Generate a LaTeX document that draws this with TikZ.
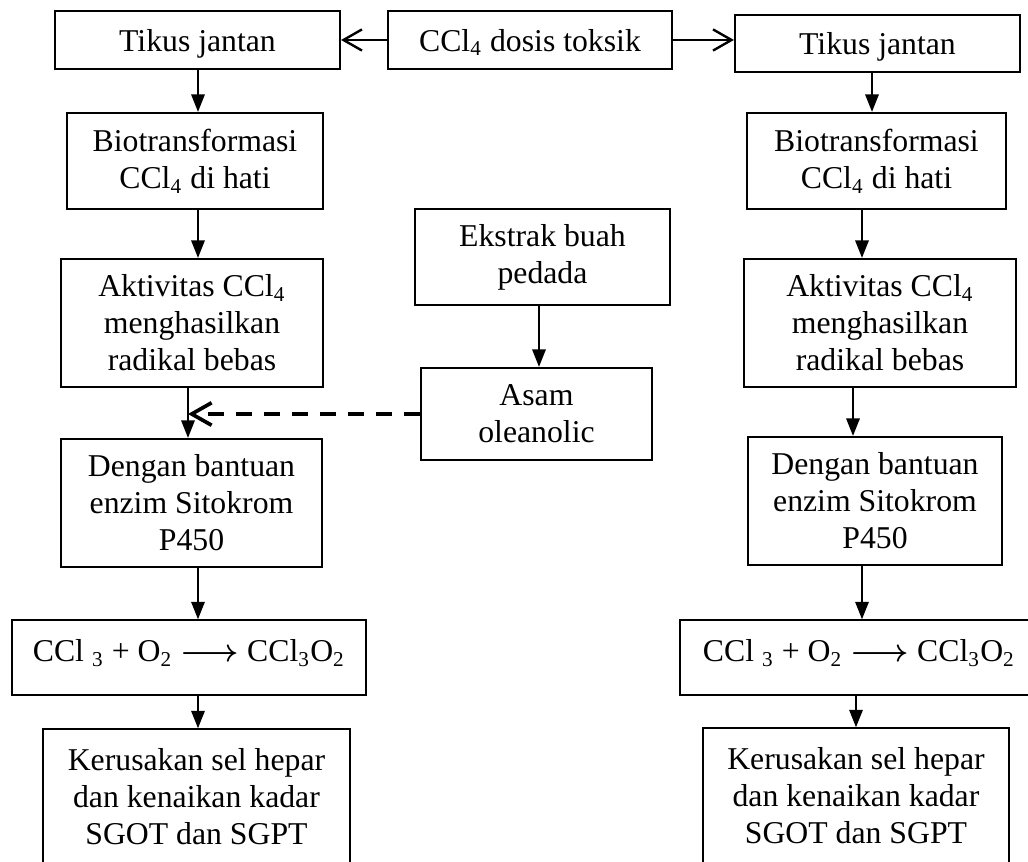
\documentclass[tikz,border=0pt]{standalone}
\usepackage{amsmath}
\usepackage{fontspec}
\setmainfont{Liberation Serif}
\usetikzlibrary{arrows.meta}
\newcommand{\pxu}{0.378pt}
\tikzset{
    box/.style={draw, line width=0.8pt, align=center, inner sep=0pt,
        font=\fontsize{12}{14}\selectfont},
    thinbox/.style={box, line width=0.5pt},
    arr/.style={-{Triangle[length=6.6pt,width=5pt]}, line width=0.9pt},
    harr/.style={-{Straight Barb[length=7pt,width=8pt]}, line width=0.9pt},
    darr/.style={-{Straight Barb[length=7.5pt,width=8.5pt]}, line width=1.4pt,
        dash pattern=on 6pt off 4.6pt}
}
\begin{document}
\begin{tikzpicture}[x=\pxu, y=-\pxu]
    \useasboundingbox (0,0) rectangle (1028,862);
    \clip (0,0) rectangle (1028,862);
    % arrow columns
    \coordinate (xL1) at (198,0);
    \coordinate (xL2) at (188,0);
    \coordinate (xM) at (539,0);
    \coordinate (xR1) at (872,0);
    \coordinate (xR2) at (862,0);
    \coordinate (xR3) at (853,0);
    \coordinate (xR4) at (856,0);
    % top row
    \node [box, minimum width=285*\pxu, minimum height=58*\pxu, text depth=0pt] (tik1) at (197.5,40) {Tikus jantan};
    \node [box, minimum width=284*\pxu, minimum height=58*\pxu, text depth=0pt] (dosis) at (530,40) {CCl\textsubscript{4} dosis toksik};
    \node [box, minimum width=285*\pxu, minimum height=57*\pxu, text depth=0pt] (tik2) at (877.5,43.5) {Tikus jantan};
    % left column
    \node [box, minimum width=256*\pxu, minimum height=96*\pxu] (bio1) at (195,161) {Biotransformasi\\CCl\textsubscript{4} di hati};
    \node [box, minimum width=262*\pxu, minimum height=128*\pxu] (akt1) at (192,323) {Aktivitas CCl\textsubscript{4}\\menghasilkan\\radikal bebas};
    \node [box, minimum width=261*\pxu, minimum height=128*\pxu] (deng1) at (191.5,503) {Dengan bantuan\\enzim Sitokrom\\P450};
    \node [thinbox, minimum width=354*\pxu, minimum height=75*\pxu, text depth=5pt] (ccl1) at (189,657.5) {CCl \textsubscript{3} + O\textsubscript{2} $\boldsymbol{\longrightarrow}$ CCl\textsubscript{3}O\textsubscript{2}};
    \node [thinbox, minimum width=307*\pxu, minimum height=136*\pxu] (ker1) at (196.5,797) {Kerusakan sel hepar\\dan kenaikan kadar\\SGOT dan SGPT};
    % middle column
    \node [box, minimum width=255*\pxu, minimum height=96*\pxu] (ekstrak) at (542.5,257) {Ekstrak buah\\pedada};
    \node [box, minimum width=231*\pxu, minimum height=92*\pxu] (asam) at (536.5,414) {Asam\\oleanolic};
    % right column
    \node [box, minimum width=259*\pxu, minimum height=96*\pxu] (bio2) at (876.5,161) {Biotransformasi\\CCl\textsubscript{4} di hati};
    \node [box, minimum width=272*\pxu, minimum height=128*\pxu] (akt2) at (880,323) {Aktivitas CCl\textsubscript{4}\\menghasilkan\\radikal bebas};
    \node [box, minimum width=254*\pxu, minimum height=128*\pxu] (deng2) at (875,501) {Dengan bantuan\\enzim Sitokrom\\P450};
    \node [thinbox, minimum width=358*\pxu, minimum height=75*\pxu, text depth=5pt] (ccl2) at (859,657.5) {CCl \textsubscript{3} + O\textsubscript{2} $\boldsymbol{\longrightarrow}$ CCl\textsubscript{3}O\textsubscript{2}};
    \node [thinbox, minimum width=306*\pxu, minimum height=136*\pxu] (ker2) at (856,796) {Kerusakan sel hepar\\dan kenaikan kadar\\SGOT dan SGPT};
    % arrows
    \draw [harr] (dosis.west) -- (tik1.east);
    \draw [harr] (dosis.east) -- (dosis.east -| tik2.west);
    \draw [arr] (tik1.south -| xL1) -- (bio1.north -| xL1);
    \draw [arr] (bio1.south -| xL1) -- (akt1.north -| xL1);
    \draw [arr] (akt1.south -| xL2) -- (deng1.north -| xL2);
    \draw [arr] (deng1.south -| xL1) -- (ccl1.north -| xL1);
    \draw [arr] (ccl1.south -| xL1) -- (ker1.north -| xL1);
    \draw [arr] (ekstrak.south -| xM) -- (asam.north -| xM);
    \draw [darr] (asam.west) -- (asam.west -| xL2);
    \draw [arr] (tik2.south -| xR1) -- (bio2.north -| xR1);
    \draw [arr] (bio2.south -| xR2) -- (akt2.north -| xR2);
    \draw [arr] (akt2.south -| xR3) -- (deng2.north -| xR3);
    \draw [arr] (deng2.south -| xR2) -- (ccl2.north -| xR2);
    \draw [arr] (ccl2.south -| xR4) -- (ker2.north -| xR4);
\end{tikzpicture}
\end{document}
